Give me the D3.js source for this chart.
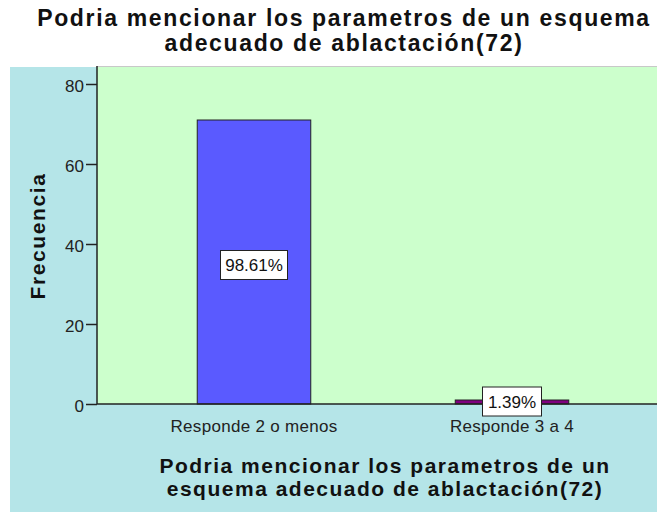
<!DOCTYPE html>
<html>
<head>
<meta charset="utf-8">
<script src="https://cdn.jsdelivr.net/npm/d3@7"></script>
<style>
  body { margin: 0; background: #fff; }
  svg { display: block; font-family: Arial, 'Liberation Sans', sans-serif; }
</style>
</head>
<body>
<div id="chart"></div>
<script>
const CATEGORIES = ['Responde 2 o menos', 'Responde 3 a 4']
const FREQUENCIES = [71, 1]
const PERCENT_LABELS = ['98.61%', '1.39%']
const BAR_COLORS = ['#5a5aff', '#800080']
const Y_TICKS = [0, 20, 40, 60, 80]
const TITLE_LINES = ['Podria mencionar los parametros de un esquema', 'adecuado de ablactación(72)']
const X_TITLE_LINES = ['Podria mencionar los parametros de un', 'esquema adecuado de ablactación(72)']

const width = 657
const height = 512
const plot = { left: 97, right: 657, top: 66, bottom: 404 }

const svg = d3.select('#chart').append('svg')
  .attr('width', width)
  .attr('height', height)

// fondo exterior
svg.append('rect')
  .attr('x', 10).attr('y', 67)
  .attr('width', width - 10).attr('height', height - 67)
  .attr('fill', '#b5e5e8')

// area del grafico
svg.append('rect')
  .attr('x', plot.left).attr('y', plot.top)
  .attr('width', plot.right - plot.left).attr('height', plot.bottom - plot.top)
  .attr('fill', '#ccffcc')
svg.append('line')
  .attr('x1', plot.left).attr('x2', plot.right)
  .attr('y1', plot.top + 0.5).attr('y2', plot.top + 0.5)
  .attr('stroke', '#c8c8c8')

const x = d3.scaleBand()
  .domain(CATEGORIES)
  .range([125, 641])
  .paddingInner(0.56)
  .paddingOuter(0.28)

const y = d3.scaleLinear()
  .domain([0, 80])
  .range([plot.bottom, 84])

svg.append('g')
  .selectAll('rect')
  .data(CATEGORIES)
  .join('rect')
  .attr('x', d => x(d))
  .attr('width', x.bandwidth())
  .attr('y', (d, i) => y(FREQUENCIES[i]))
  .attr('height', (d, i) => y(0) - y(FREQUENCIES[i]))
  .attr('fill', (d, i) => BAR_COLORS[i])
  .attr('stroke', '#222')
  .attr('stroke-width', 1)

// eje y
const yAxis = svg.append('g')
  .attr('transform', `translate(${plot.left},0)`)
  .call(d3.axisLeft(y).tickValues(Y_TICKS).tickSize(11).tickSizeOuter(0))
yAxis.select('.domain').attr('stroke', '#222').attr('stroke-width', 1.5)
  .attr('d', `M0,${plot.top}V${plot.bottom}`)
yAxis.selectAll('.tick line').attr('stroke', '#222').attr('stroke-width', 1.5)
yAxis.selectAll('.tick text')
  .attr('font-size', 17).attr('fill', '#222').attr('x', -13).attr('dy', '0.45em')
  .attr('font-family', 'Arial, Liberation Sans, sans-serif')

// eje x
const xAxis = svg.append('g')
  .attr('transform', `translate(0,${plot.bottom})`)
  .call(d3.axisBottom(x).tickSize(0).tickSizeOuter(0))
xAxis.select('.domain').attr('stroke', '#222').attr('stroke-width', 1.5)
  .attr('d', `M${plot.left},0H${plot.right}`)
xAxis.selectAll('.tick text')
  .attr('font-size', 17).attr('fill', '#222').attr('y', 0).attr('dy', 28)
  .attr('letter-spacing', 0.3)
  .attr('font-family', 'Arial, Liberation Sans, sans-serif')

// etiquetas de porcentaje
const labels = svg.append('g')
  .selectAll('g')
  .data(CATEGORIES)
  .join('g')
  .attr('transform', (d, i) => {
    const cy = i === 0 ? (y(0) + y(FREQUENCIES[i])) / 2 + 3 : y(0) - 2.5
    return `translate(${x(d) + x.bandwidth() / 2},${cy})`
  })
labels.append('rect')
  .attr('x', (d, i) => i === 0 ? -33.5 : -29.5)
  .attr('width', (d, i) => i === 0 ? 67 : 59)
  .attr('y', -14.5).attr('height', 29)
  .attr('fill', '#fff')
  .attr('stroke', '#222')
labels.append('text')
  .attr('text-anchor', 'middle')
  .attr('dy', '0.36em')
  .attr('font-size', 17)
  .attr('fill', '#111')
  .text((d, i) => PERCENT_LABELS[i])

// titulo
svg.append('text')
  .attr('text-anchor', 'middle')
  .attr('font-size', 23)
  .attr('font-weight', 'bold')
  .attr('letter-spacing', 1.65)
  .attr('fill', '#111')
  .selectAll('tspan')
  .data(TITLE_LINES)
  .join('tspan')
  .attr('x', 344)
  .attr('y', (d, i) => 26 + i * 25)
  .text(d => d)

// titulo eje y
svg.append('text')
  .attr('text-anchor', 'middle')
  .attr('transform', 'translate(45,236) rotate(-90)')
  .attr('font-size', 21)
  .attr('font-weight', 'bold')
  .attr('letter-spacing', 1.6)
  .attr('fill', '#111')
  .text('Frecuencia')

// titulo eje x
svg.append('text')
  .attr('text-anchor', 'middle')
  .attr('font-size', 21)
  .attr('font-weight', 'bold')
  .attr('letter-spacing', 1.5)
  .attr('fill', '#111')
  .selectAll('tspan')
  .data(X_TITLE_LINES)
  .join('tspan')
  .attr('x', 385)
  .attr('y', (d, i) => 473 + i * 23)
  .text(d => d)
</script>
</body>
</html>
